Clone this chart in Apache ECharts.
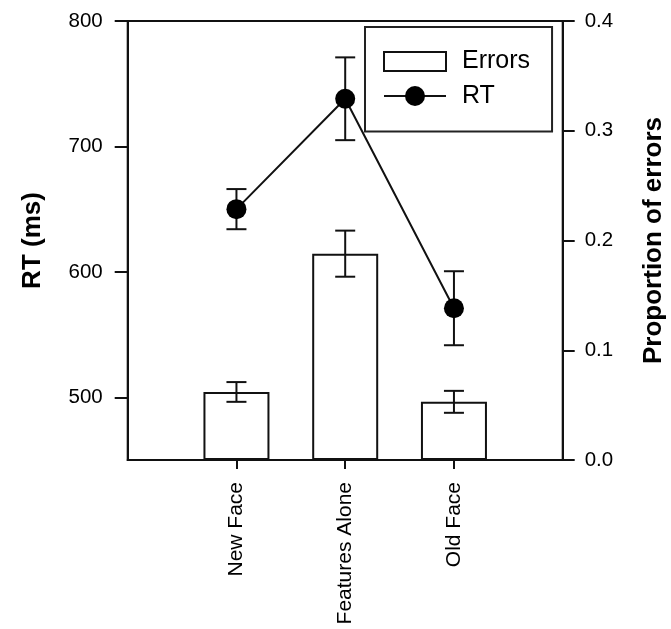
<!DOCTYPE html>
<html>
<head>
<meta charset="utf-8">
<script src="https://cdn.jsdelivr.net/npm/echarts@6/dist/echarts.min.js"></script>
<style>
html,body{margin:0;padding:0;background:#fff;}
#chart{width:671px;height:629px;}
</style>
</head>
<body>
<div id="chart"></div>
<script>
// ---- data ----
const categories = ['', 'New Face', 'Features Alone', 'Old Face', ''];
const errorProp  = [null, 0.062, 0.188, 0.053, null];
const errorSE    = [null, 0.009, 0.021, 0.010, null];
const rtMs       = [null, 650, 738, 571, null];
const rtSE       = [null, 16, 33, 29.5, null];
const rtTicks    = [500, 600, 700, 800];

const FONT = '"Liberation Sans", Arial, Helvetica, sans-serif';
const INK = '#111';

function errRenderer(capHalf) {
  return function (params, api) {
    const x = api.value(0), y = api.value(1), e = api.value(2);
    const top = api.coord([x, y + e]);
    const bot = api.coord([x, y - e]);
    const style = { stroke: INK, lineWidth: 2 };
    return {
      type: 'group',
      children: [
        { type: 'line', shape: { x1: top[0], y1: top[1], x2: bot[0], y2: bot[1] }, style: style },
        { type: 'line', shape: { x1: top[0] - capHalf, y1: top[1], x2: top[0] + capHalf, y2: top[1] }, style: style },
        { type: 'line', shape: { x1: bot[0] - capHalf, y1: bot[1], x2: bot[0] + capHalf, y2: bot[1] }, style: style }
      ]
    };
  };
}

const errBarData = [];
const rtErrData = [];
categories.forEach(function (c, i) {
  if (errorProp[i] != null) errBarData.push([i, errorProp[i], errorSE[i]]);
  if (rtMs[i] != null) rtErrData.push([i, rtMs[i], rtSE[i]]);
});

const chart = echarts.init(document.getElementById('chart'), null, { renderer: 'canvas' });
chart.setOption({
  animation: false,
  backgroundColor: '#fff',
  textStyle: { fontFamily: FONT, color: '#000' },
  grid: {
    left: 127.7, right: 108.3, top: 21, bottom: 169,
    outerBoundsMode: 'none', containLabel: false,
    show: true, borderColor: INK, borderWidth: 2, backgroundColor: 'transparent'
  },
  legend: {
    orient: 'vertical',
    left: 365, top: 27,
    itemWidth: 62, itemHeight: 25, itemGap: 9.5,
    padding: [22, 22, 23, 18],
    borderColor: '#222', borderWidth: 2,
    textStyle: { fontSize: 25, color: '#000', fontFamily: FONT, padding: [0, 0, 0, 11] },
    data: [
      { name: 'Errors', icon: 'path://M0,0 L62,0 L62,19 L0,19 Z',
        itemStyle: { color: '#fff', borderColor: INK, borderWidth: 2 } },
      { name: 'RT' }
    ]
  },
  xAxis: {
    type: 'category',
    data: categories,
    boundaryGap: false,
    axisLine: { lineStyle: { color: INK, width: 2 } },
    axisTick: {
      length: 9, lineStyle: { color: INK, width: 2 },
      interval: function (index, value) { return value !== ''; }
    },
    axisLabel: { rotate: 90, fontSize: 21, color: '#000', margin: 22, interval: 0 },
    splitLine: { show: false }
  },
  yAxis: [
    {
      type: 'value', position: 'left', min: 450, max: 800,
      name: 'RT (ms)', nameLocation: 'middle', nameGap: 82,
      nameTextStyle: { fontSize: 26, fontWeight: 'bold', color: '#000' },
      axisLine: { show: true, lineStyle: { color: INK, width: 2 } },
      axisTick: { show: true, length: 13, customValues: rtTicks, lineStyle: { color: INK, width: 2 } },
      axisLabel: { fontSize: 20.5, color: '#000', margin: 25, customValues: rtTicks },
      splitLine: { show: false }
    },
    {
      type: 'value', position: 'right', min: 0, max: 0.4, interval: 0.1,
      name: 'Proportion of errors', nameLocation: 'middle', nameGap: 78,
      nameTextStyle: { fontSize: 26, fontWeight: 'bold', color: '#000' },
      axisLine: { show: true, lineStyle: { color: INK, width: 2 } },
      axisTick: { show: true, length: 12, lineStyle: { color: INK, width: 2 } },
      axisLabel: { fontSize: 20.5, color: '#000', margin: 22, formatter: function (v) { return v.toFixed(1); } },
      splitLine: { show: false }
    }
  ],
  series: [
    {
      name: 'Errors', type: 'bar', yAxisIndex: 1, barWidth: 66,
      data: errorProp,
      itemStyle: { color: '#fff', borderColor: INK, borderWidth: 2 },
      z: 2
    },
    {
      name: 'Errors SE', type: 'custom', yAxisIndex: 1,
      renderItem: errRenderer(10), data: errBarData, z: 3, silent: true
    },
    {
      name: 'RT SE', type: 'custom', yAxisIndex: 0,
      renderItem: errRenderer(10), data: rtErrData, z: 3, silent: true
    },
    {
      name: 'RT', type: 'line', yAxisIndex: 0,
      data: rtMs,
      symbol: 'circle', symbolSize: 20,
      lineStyle: { color: INK, width: 2 },
      itemStyle: { color: '#000', borderColor: '#000', borderWidth: 0 },
      z: 4
    }
  ]
});
</script>
</body>
</html>
